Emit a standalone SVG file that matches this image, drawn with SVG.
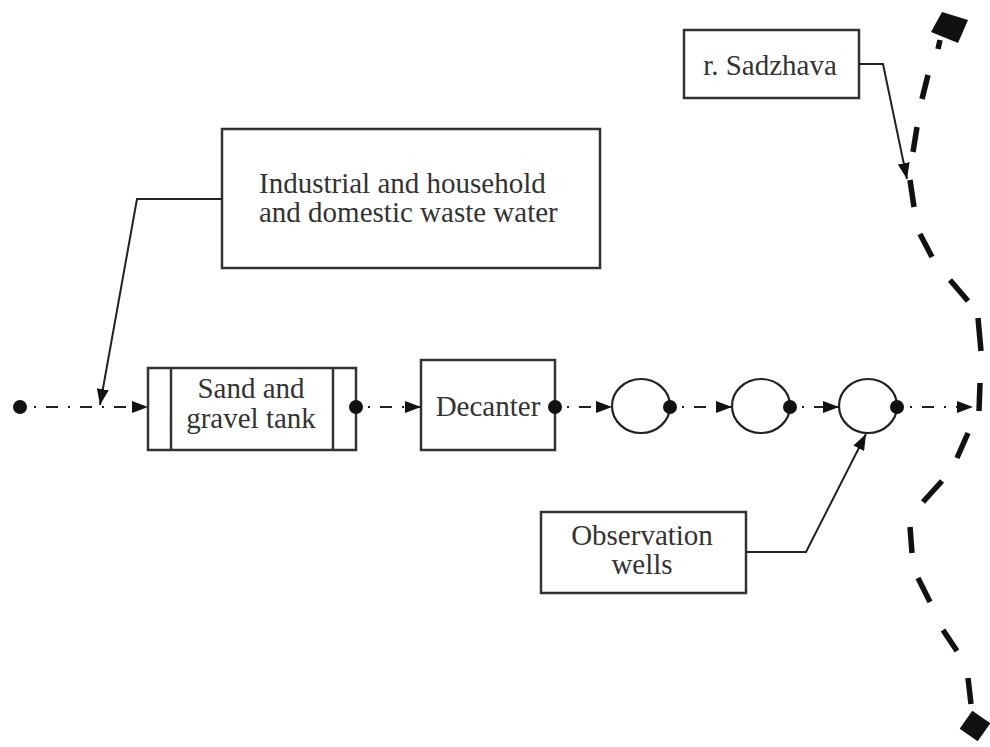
<svg xmlns="http://www.w3.org/2000/svg" width="990" height="747" viewBox="0 0 990 747">
<defs>
<style>
.box{fill:#fff;stroke:#333;stroke-width:2.5}
.lbl{font-family:"Liberation Serif","Times New Roman",serif;font-size:29px;fill:#333}
.mid{text-anchor:middle}
.flow{fill:none;stroke:#222;stroke-width:2;stroke-dasharray:2 10 12 10}
.conn{fill:none;stroke:#222;stroke-width:2}
.dot{fill:#111}
.well{fill:#fff;stroke:#222;stroke-width:2.2}
.river{stroke:#111;stroke-width:5.5;stroke-linecap:butt}
</style>
<marker id="ah" viewBox="0 0 16 12" refX="16" refY="6" markerWidth="16" markerHeight="12" markerUnits="userSpaceOnUse" orient="auto">
<path d="M0,0 L16,6 L0,12 z" fill="#111"/>
</marker>
</defs>
<rect width="990" height="747" fill="#fff"/>

<g id="industrial">
<rect class="box" x="222" y="129" width="378" height="139"/>
<text class="lbl" x="259" y="193">Industrial and household</text>
<text class="lbl" x="259" y="222">and domestic waste water</text>
</g>

<g id="sadzhava">
<rect class="box" x="684" y="30" width="175" height="68"/>
<text class="lbl mid" x="770" y="75">r. Sadzhava</text>
</g>

<g id="sand-tank">
<rect class="box" x="148" y="368" width="208" height="82"/>
<line class="box" x1="171" y1="368" x2="171" y2="450"/>
<line class="box" x1="333" y1="368" x2="333" y2="450"/>
<text class="lbl mid" x="251" y="398">Sand and</text>
<text class="lbl mid" x="251" y="428">gravel tank</text>
</g>

<g id="decanter">
<rect class="box" x="421" y="360" width="134" height="90"/>
<text class="lbl mid" x="488" y="416">Decanter</text>
</g>

<g id="well1"><ellipse class="well" cx="641" cy="406" rx="29" ry="27"/></g>
<g id="well2"><ellipse class="well" cx="761" cy="406" rx="29" ry="27"/></g>
<g id="well3"><ellipse class="well" cx="868" cy="406" rx="29" ry="27"/></g>

<g id="observation">
<rect class="box" x="541" y="512" width="205" height="81"/>
<text class="lbl mid" x="642" y="545">Observation</text>
<text class="lbl mid" x="642" y="574">wells</text>
</g>

<g id="river">
<polygon fill="#111" points="931,32 942,12 968,20 958,43"/>
<line class="river" x1="940" y1="40" x2="938" y2="49"/>
<line class="river" x1="928" y1="75" x2="922" y2="99"/>
<line class="river" x1="917" y1="127" x2="913" y2="152"/>
<line class="river" x1="910" y1="180" x2="914" y2="207"/>
<line class="river" x1="920" y1="234" x2="932" y2="257"/>
<line class="river" x1="950" y1="280" x2="968" y2="301"/>
<line class="river" x1="978" y1="318" x2="981" y2="351"/>
<line class="river" x1="980" y1="383" x2="979" y2="411"/>
<line class="river" x1="968" y1="433" x2="957" y2="458"/>
<line class="river" x1="942" y1="481" x2="923" y2="502"/>
<line class="river" x1="910" y1="527" x2="912" y2="553"/>
<line class="river" x1="918" y1="578" x2="930" y2="602"/>
<line class="river" x1="943" y1="630" x2="957" y2="651"/>
<line class="river" x1="968" y1="678" x2="971" y2="704"/>
<rect fill="#111" x="-11" y="-11" width="22" height="22" transform="translate(975 726) rotate(35)"/>
</g>

<g id="connectors">
<line class="flow" x1="34" y1="407" x2="148" y2="407" marker-end="url(#ah)"/>
<line class="flow" x1="368" y1="407" x2="421" y2="407" marker-end="url(#ah)"/>
<line class="flow" x1="567" y1="407" x2="612" y2="407" marker-end="url(#ah)"/>
<line class="flow" x1="682" y1="407" x2="732" y2="407" marker-end="url(#ah)"/>
<line class="flow" x1="802" y1="407" x2="839" y2="407" marker-end="url(#ah)"/>
<line class="flow" x1="910" y1="407" x2="973" y2="407" marker-end="url(#ah)"/>
<polyline class="conn" points="222,199 137,199 100,405" marker-end="url(#ah)"/>
<polyline class="conn" points="859,64 883,64 907,179" marker-end="url(#ah)"/>
<polyline class="conn" points="746,552 806,552 866,434" marker-end="url(#ah)"/>
<circle class="dot" cx="20" cy="407" r="7"/>
<circle class="dot" cx="356" cy="407" r="7"/>
<circle class="dot" cx="555" cy="407" r="7"/>
<circle class="dot" cx="670" cy="407" r="7"/>
<circle class="dot" cx="790" cy="407" r="7"/>
<circle class="dot" cx="897" cy="407" r="7"/>
</g>
</svg>
